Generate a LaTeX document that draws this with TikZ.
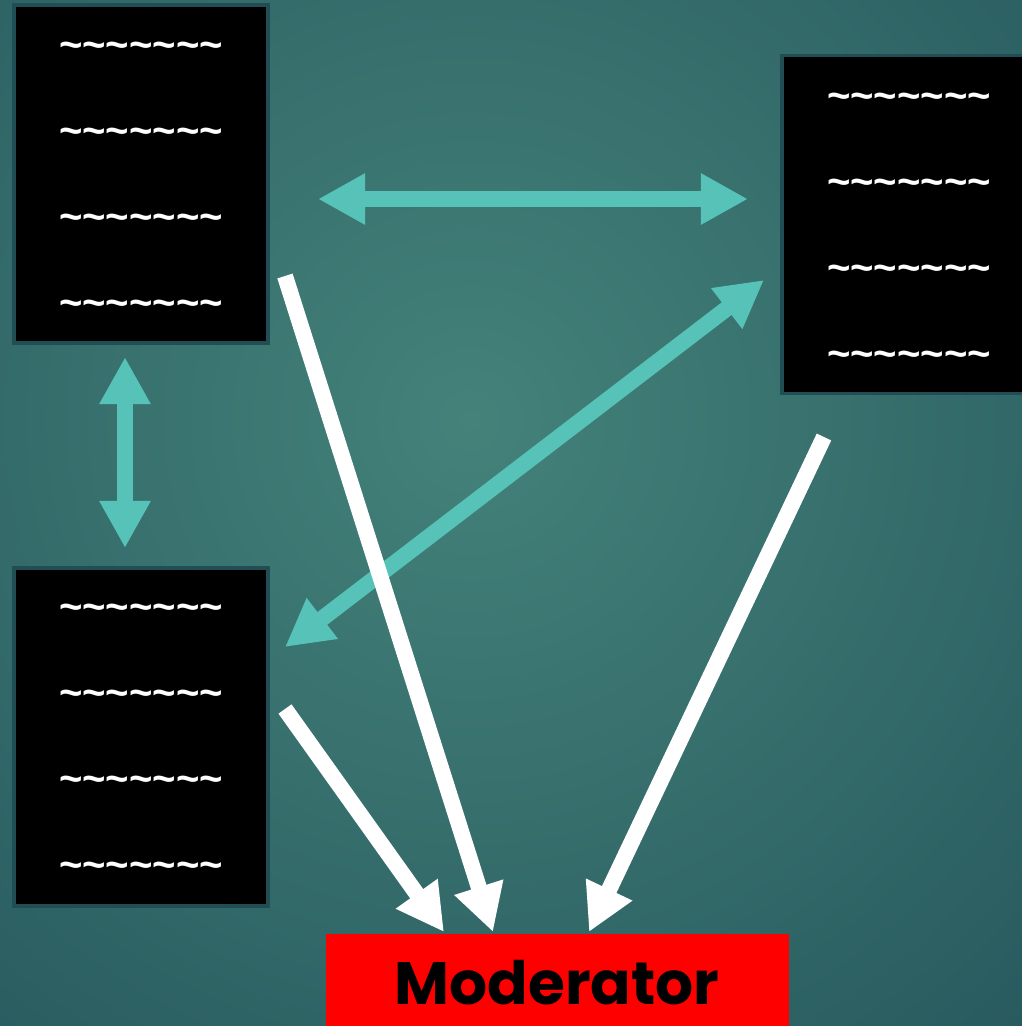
\documentclass[tikz,border=0pt]{standalone}
\usepackage{fontspec}
\setmainfont{Liberation Sans}
\newfontfamily\modfont{Poppins}
\usetikzlibrary{arrows.meta,calc}
\definecolor{bgin}{RGB}{68,130,122}
\definecolor{bgout}{RGB}{27,72,82}
\definecolor{aqua}{RGB}{86,194,184}
\definecolor{cardline}{RGB}{32,78,84}
\newcommand\waves{\textasciitilde\textasciitilde\textasciitilde\textasciitilde\textasciitilde\textasciitilde\textasciitilde}
\tikzset{
  card/.style={draw=cardline, line width=1pt, fill=black, minimum width=2.54cm, minimum height=3.38cm, inner sep=0pt},
  wave/.style={text=white, inner sep=0pt, font=\bfseries\fontsize{11.4}{12}\selectfont},
  modbox/.style={fill=red, minimum width=4.63cm, minimum height=1.2cm, inner sep=0pt},
  modlabel/.style={inner sep=0pt, font=\modfont\bfseries\fontsize{17}{20}\selectfont},
  >={Triangle[width=4.8mm,length=4.7mm]},
  link/.style={draw=aqua, line width=1.6mm, <->},
  feed/.style={draw=white, line width=1.6mm, ->}
}
\begin{document}
\begin{tikzpicture}[x=0.01cm,y=-0.01cm]
  \useasboundingbox (0,0) rectangle (1022,1026);
  \clip (0,0) rectangle (1022,1026);
  \shade[inner color=bgin, outer color=bgout] (470,420) circle (1200);
  \node[card] (tl) at (141,174) {};
  \node[card] (tr) at (909,224.5) {};
  \node[card] (bl) at (141,737) {};
  \foreach \n/\x/\y in {tl/141/50, tr/909/101, bl/141/612}
    \foreach \k in {0,...,3}
      \node[wave] (\n-\k) at (\x,{\y+86*\k}) {\waves};
  \node[modbox, anchor=north] (mod) at (557.5,933) {};
  \node[modlabel, anchor=base] (mod-text) at (557,1004) {Moderator};
  \coordinate (tl-e) at (318,199);
  \coordinate (tr-w) at (748,199);
  \coordinate (tl-s) at (125,357);
  \coordinate (bl-n) at (125,548);
  \coordinate (bl-e) at (285,647);
  \coordinate (tr-sw) at (764,280);
  \coordinate (tl-out) at (285,276);
  \coordinate (tr-out) at (824,437);
  \coordinate (bl-out) at (285,709);
  \coordinate (mod-a) at (444,932);
  \coordinate (mod-b) at (493,932);
  \coordinate (mod-c) at (589,932);
  \draw[link] (tl-e) -- (tr-w);
  \draw[link] (tl-s) -- (bl-n);
  \draw[link] (bl-e) -- (tr-sw);
  \draw[feed] (tl-out) -- (mod-b);
  \draw[feed] (tr-out) -- (mod-c);
  \draw[feed] (bl-out) -- (mod-a);
\end{tikzpicture}
\end{document}
